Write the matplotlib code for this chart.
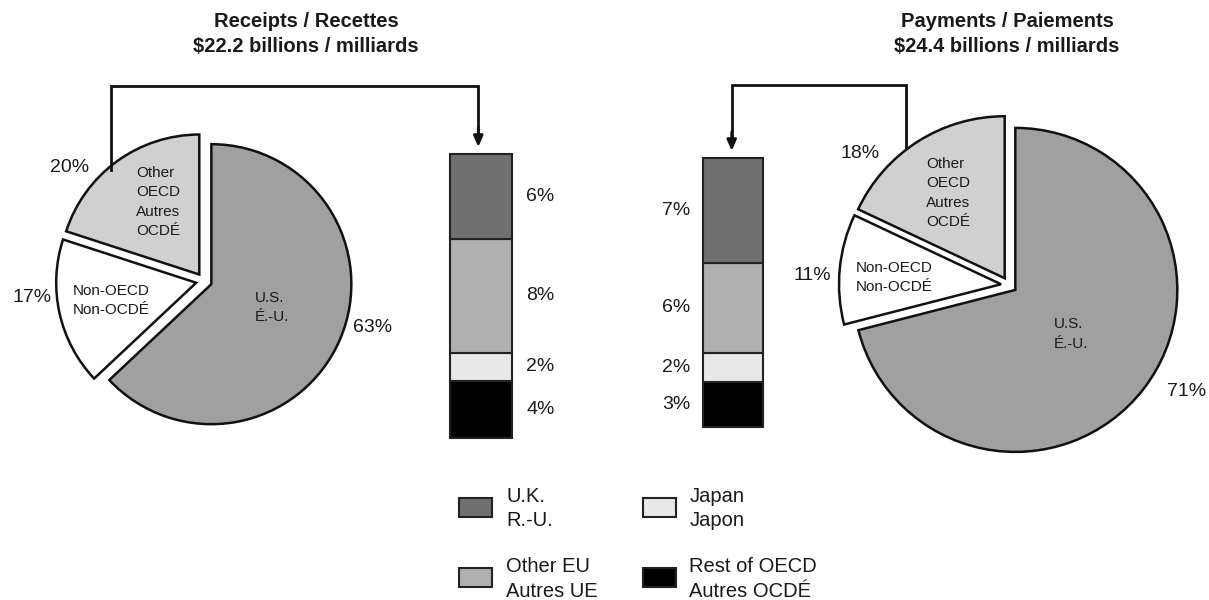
import numpy as np
import matplotlib
matplotlib.use('Agg')
import matplotlib.pyplot as plt
from matplotlib.patches import Rectangle

plt.rcParams['font.family'] = ['Liberation Sans', 'DejaVu Sans']

W, H = 1209, 600

# ---- data ----
pie_labels = ['U.S.\nÉ.-U.', 'Non-OECD\nNon-OCDÉ', 'Other\nOECD\nAutres\nOCDÉ']
pie_colors = ['#a0a0a0', '#ffffff', '#d0d0d0']
receipts_share = [63, 17, 20]
payments_share = [71, 11, 18]

oecd_labels = ['U.K.\nR.-U.', 'Other EU\nAutres UE', 'Japan\nJapon', 'Rest of OECD\nAutres OCDÉ']
oecd_colors = ['#707070', '#b0b0b0', '#e8e8e8', '#000000']
receipts_oecd = [6, 8, 2, 4]
payments_oecd = [7, 6, 2, 3]

titles = ['Receipts / Recettes\n$22.2 billions / milliards',
          'Payments / Paiements\n$24.4 billions / milliards']

edge = '#111111'
txt = '#1a1a1a'

fig = plt.figure(figsize=(W / 100, H / 100), dpi=100)
ax = fig.add_axes([0, 0, 1, 1])


def draw_pie(shares, center, radius, pct_pos, lab_pos):
    # y axis is inverted (pixel coords), so counterclock/startangle are mirrored
    ax.pie(shares, colors=pie_colors, startangle=-90, counterclock=True,
           explode=[8] * len(shares), center=center, radius=radius,
           wedgeprops=dict(edgecolor=edge, linewidth=1.8))
    for s, (x, y) in zip(shares, pct_pos):
        ax.text(x, y, f'{s}%', fontsize=14, ha='center', va='center', color=txt)
    for lab, (x, y) in zip(pie_labels, lab_pos):
        ax.text(x, y, lab, fontsize=11, ha='left', va='center', color=txt,
                linespacing=1.5)


draw_pie(receipts_share, (204, 281), 140,
         [(373, 327), (32, 298), (70, 168)],
         [(255, 307.5), (73, 300.5), (136, 202)])
draw_pie(payments_share, (1009, 285), 162,
         [(1187, 392), (812, 276), (860, 153)],
         [(1054, 334), (856, 277.5), (926, 193)])

ax.set_xlim(0, W)
ax.set_ylim(H, 0)
ax.set_aspect('equal')
ax.axis('off')

# titles
ax.text(306, 34, titles[0], fontsize=14.5, fontweight='bold', ha='center', va='center',
        color=txt, linespacing=1.45)
ax.text(1007, 34, titles[1], fontsize=14.5, fontweight='bold', ha='center', va='center',
        color=txt, linespacing=1.45)

# connectors
arrow_style = '-|>,head_length=0.46,head_width=0.2'
ax.plot([111, 111, 478.3, 478.3], [170, 86, 86, 132], color=edge, lw=2,
        solid_joinstyle='miter')
ax.annotate('', xy=(478.3, 147), xytext=(478.3, 128),
            arrowprops=dict(arrowstyle=arrow_style, color=edge, lw=2,
                            mutation_scale=14, shrinkA=0, shrinkB=0))
ax.plot([905.7, 905.7, 731.7, 731.7], [148, 85, 85, 136], color=edge, lw=2,
        solid_joinstyle='miter')
ax.annotate('', xy=(731.7, 151), xytext=(731.7, 132),
            arrowprops=dict(arrowstyle=arrow_style, color=edge, lw=2,
                            mutation_scale=14, shrinkA=0, shrinkB=0))


def draw_bar(values, box, side):
    x0, y0, x1, y1 = box
    bax = fig.add_axes([x0 / W, 1 - y1 / H, (x1 - x0) / W, (y1 - y0) / H])
    vals = values[::-1]
    cols = oecd_colors[::-1]
    bottoms = np.concatenate([[0], np.cumsum(vals)[:-1]])
    bax.bar(0, vals, bottom=bottoms, width=1, color=cols, edgecolor='#222222',
            linewidth=1.5, clip_on=False)
    bax.set_xlim(-0.5, 0.5)
    bax.set_ylim(0, sum(values))
    bax.axis('off')
    for v, b in zip(vals, bottoms):
        if side == 'right':
            bax.annotate(f'{v}%', xy=(0.5, b + v / 2), xytext=(10, 0),
                         textcoords='offset points', ha='left', va='center',
                         fontsize=14, color=txt, annotation_clip=False)
        else:
            bax.annotate(f'{v}%', xy=(-0.5, b + v / 2), xytext=(-9.5, 0),
                         textcoords='offset points', ha='right', va='center',
                         fontsize=14, color=txt, annotation_clip=False)


draw_bar(receipts_oecd, (450, 154, 512.3, 437.7), 'right')
draw_bar(payments_oecd, (703.3, 158.3, 762.7, 427.3), 'left')

# legend
patch_x = [459.3, 643.3]
text_x = [506, 689.3]
row_y = [507, 577.5]
for i, (lab, col) in enumerate(zip(oecd_labels, oecd_colors)):
    c, r = i // 2, i % 2
    ax.add_patch(Rectangle((patch_x[c], row_y[r] - 9.5), 32.4, 19, facecolor=col,
                           edgecolor='#222222', linewidth=1.5))
    ax.text(text_x[c], row_y[r] + 1.5, lab, fontsize=14.5, ha='left', va='center',
            color=txt, linespacing=1.4)

fig.savefig('out.png', dpi=100, facecolor='white')
